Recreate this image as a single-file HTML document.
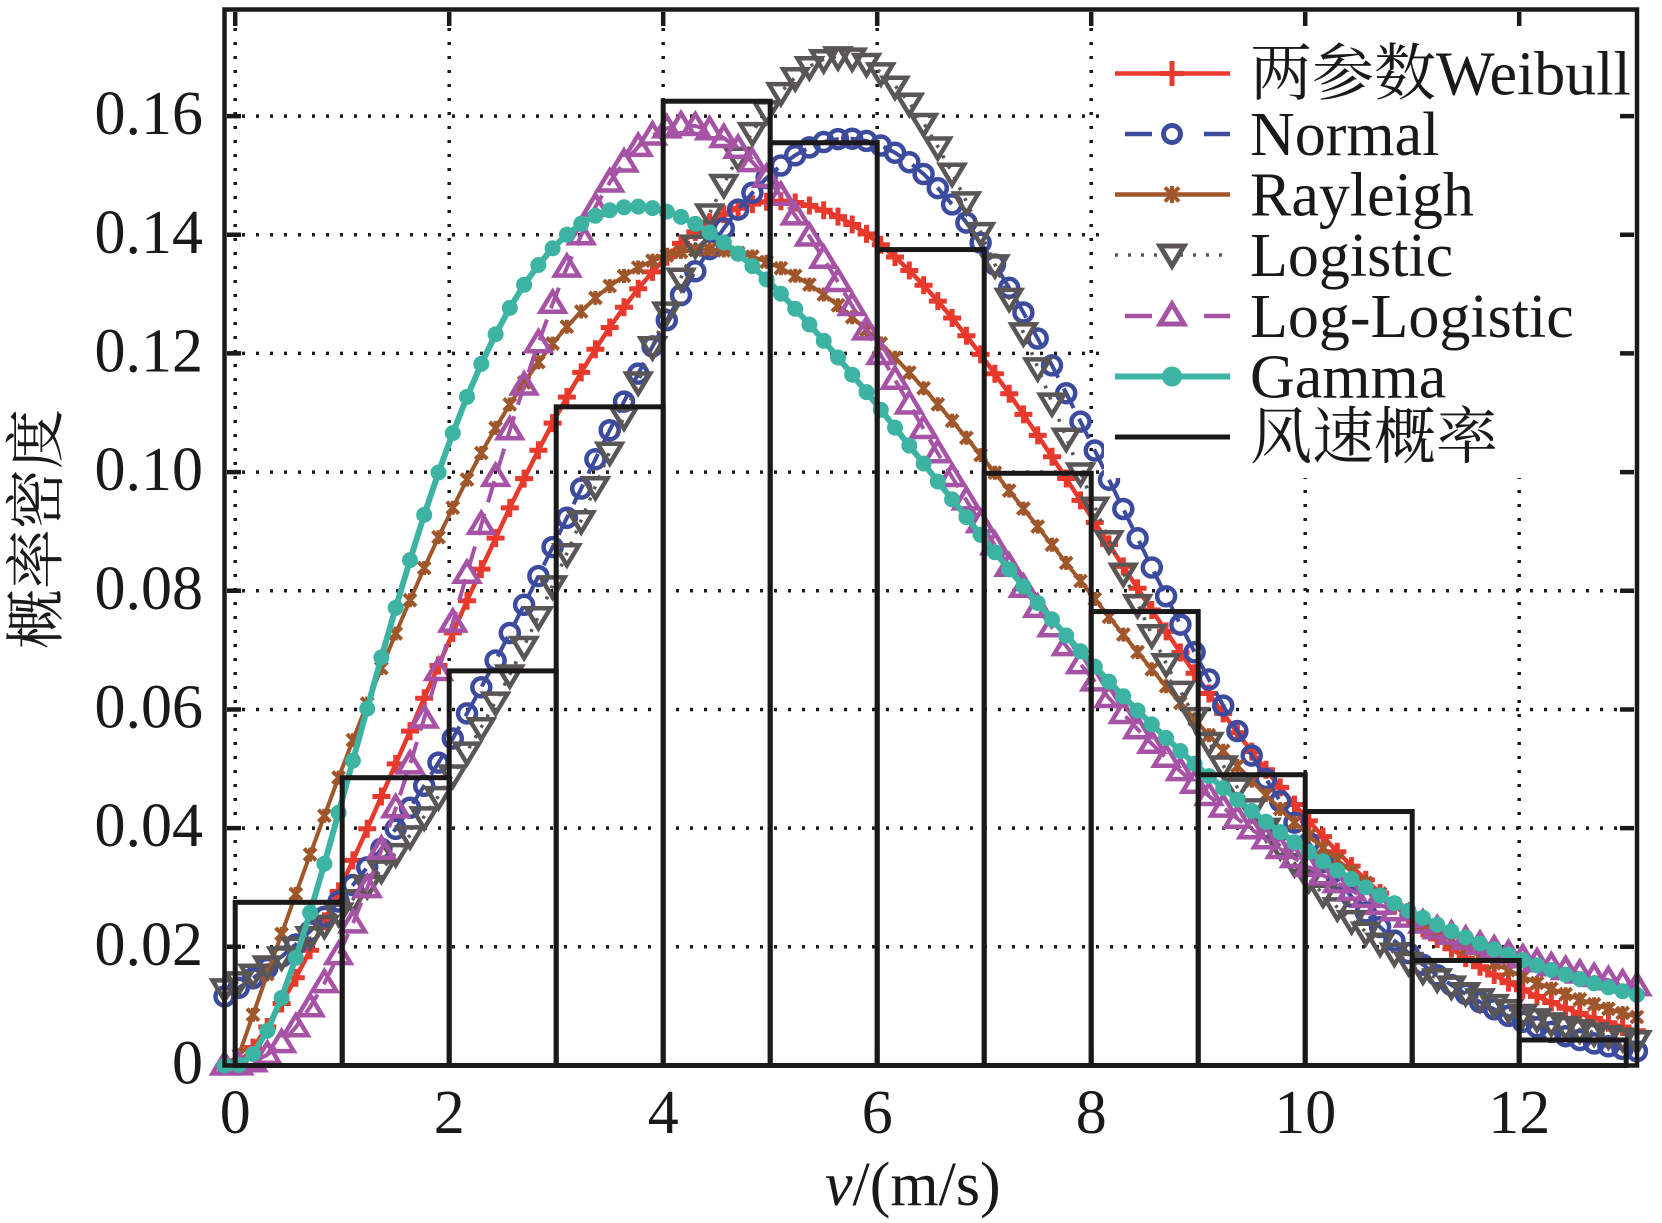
<!DOCTYPE html>
<html>
<head>
<meta charset="utf-8">
<style>
  html,body{margin:0;padding:0;background:#fff;}
  svg{display:block;}
  .tk{font-family:"Liberation Serif","Noto Serif CJK SC",serif;font-size:62px;fill:#1a1818;}
</style>
</head>
<body>
<svg id="chart" xmlns="http://www.w3.org/2000/svg" width="1662" height="1223" viewBox="0 0 1662 1223">
  <rect x="0" y="0" width="1662" height="1223" fill="#fff"/>

  <!-- grid -->
  <g stroke="#1a1818" stroke-width="3.5" stroke-dasharray="3 11" fill="none">
    <line x1="235.2" y1="14" x2="235.2" y2="1063"/>
    <line x1="449.2" y1="14" x2="449.2" y2="1063"/>
    <line x1="663.2" y1="14" x2="663.2" y2="1063"/>
    <line x1="877.2" y1="14" x2="877.2" y2="1063"/>
    <line x1="1091.2" y1="14" x2="1091.2" y2="1063"/>
    <line x1="1305.2" y1="14" x2="1305.2" y2="1063"/>
    <line x1="1519.2" y1="14" x2="1519.2" y2="1063"/>
    <line x1="228" y1="946.8" x2="1634" y2="946.8"/>
    <line x1="228" y1="828.1" x2="1634" y2="828.1"/>
    <line x1="228" y1="709.5" x2="1634" y2="709.5"/>
    <line x1="228" y1="590.8" x2="1634" y2="590.8"/>
    <line x1="228" y1="472.1" x2="1634" y2="472.1"/>
    <line x1="228" y1="353.4" x2="1634" y2="353.4"/>
    <line x1="228" y1="234.8" x2="1634" y2="234.8"/>
    <line x1="228" y1="116.1" x2="1634" y2="116.1"/>
  </g>

  <!-- curves (generated) -->
  <g id="curves"></g>

  <!-- histogram -->
  <g id="bars" stroke="#1a1818" stroke-width="5" fill="none"></g>

  <!-- legend -->
  <rect x="1104" y="13" width="530" height="465" fill="#fff"/>
  <g stroke-width="4.5" fill="none">
    <line x1="1115" y1="73.5" x2="1230" y2="73.5" stroke="#e8392d"/>
    <path d="M1172 61 V86 M1160 73.5 H1184" stroke="#e8392d" stroke-width="5"/>

    <line x1="1125" y1="134" x2="1152" y2="134" stroke="#3d4b9e"/>
    <line x1="1204" y1="134" x2="1230" y2="134" stroke="#3d4b9e"/>
    <circle cx="1172" cy="134" r="8.5" stroke="#3d4b9e" stroke-width="5"/>

    <line x1="1115" y1="194.5" x2="1230" y2="194.5" stroke="#a0562b"/>
    <path d="M1165 187.5 L1179 201.5 M1165 201.5 L1179 187.5 M1172 186 V203" stroke="#a0562b" stroke-width="4"/>

    <line x1="1115" y1="255" x2="1230" y2="255" stroke="#5b5656" stroke-width="3.5" stroke-dasharray="3 10"/>
    <polygon points="1160,246 1184,246 1172,266" stroke="#5b5656" stroke-width="5" fill="#fff"/>

    <line x1="1125" y1="316" x2="1152" y2="316" stroke="#a653a6"/>
    <line x1="1204" y1="316" x2="1230" y2="316" stroke="#a653a6"/>
    <polygon points="1172,304 1184,324 1160,324" stroke="#a653a6" stroke-width="5" fill="#fff"/>

    <line x1="1115" y1="376.5" x2="1230" y2="376.5" stroke="#3cb3a3" stroke-width="6"/>
    <circle cx="1172" cy="376.5" r="10" fill="#3cb3a3" stroke="none"/>

    <line x1="1115" y1="437" x2="1230" y2="437" stroke="#1a1818" stroke-width="5"/>
  </g>
  <g class="tk">
    <text x="1250" y="94.5">两参数Weibull</text>
    <text x="1250" y="155">Normal</text>
    <text x="1250" y="215.5">Rayleigh</text>
    <text x="1250" y="276">Logistic</text>
    <text x="1250" y="337">Log-Logistic</text>
    <text x="1250" y="397.5">Gamma</text>
    <text x="1250" y="458">风速概率</text>
  </g>

  <!-- axes frame and ticks -->
  <g stroke="#1a1818" stroke-width="4.5" fill="none">
    <rect x="224.5" y="9.5" width="1412.5" height="1056"/>
    <path d="M235.2 1063 V1049 M449.2 1063 V1049 M663.2 1063 V1049 M877.2 1063 V1049 M1091.2 1063 V1049 M1305.2 1063 V1049 M1519.2 1063 V1049
             M235.2 12 V26 M449.2 12 V26 M663.2 12 V26 M877.2 12 V26 M1091.2 12 V26 M1305.2 12 V26 M1519.2 12 V26
             M227 946.8 H241 M227 828.1 H241 M227 709.5 H241 M227 590.8 H241 M227 472.1 H241 M227 353.4 H241 M227 234.8 H241 M227 116.1 H241
             M1634 946.8 H1620 M1634 828.1 H1620 M1634 709.5 H1620 M1634 590.8 H1620 M1634 472.1 H1620 M1634 353.4 H1620 M1634 234.8 H1620 M1634 116.1 H1620"/>
  </g>

  <!-- y tick labels -->
  <g class="tk" text-anchor="end">
    <text x="203" y="1083.5">0</text>
    <text x="203" y="964.8">0.02</text>
    <text x="203" y="846.1">0.04</text>
    <text x="203" y="727.5">0.06</text>
    <text x="203" y="608.8">0.08</text>
    <text x="203" y="490.1">0.10</text>
    <text x="203" y="371.4">0.12</text>
    <text x="203" y="252.8">0.14</text>
    <text x="203" y="134.1">0.16</text>
  </g>

  <!-- x tick labels -->
  <g class="tk" text-anchor="middle">
    <text x="235.2" y="1133">0</text>
    <text x="449.2" y="1133">2</text>
    <text x="663.2" y="1133">4</text>
    <text x="877.2" y="1133">6</text>
    <text x="1091.2" y="1133">8</text>
    <text x="1305.2" y="1133">10</text>
    <text x="1519.2" y="1133">12</text>
  </g>

  <!-- axis labels -->
  <text class="tk" x="825" y="1205"><tspan font-style="italic">v</tspan>/(m/s)</text>
  <text class="tk" transform="translate(35,529) rotate(-90)" x="0" y="22" text-anchor="middle" style="font-size:60px">概率密度</text>
</svg>

<script>
(function(){
  var NS = 'http://www.w3.org/2000/svg';
  var X = function(x){ return 235.2 + 107*x; };
  var Y = function(v){ return 1065.5 - 5934*v; };

  // histogram
  var h = [0.0275,0.0485,0.0665,0.1110,0.1625,0.1555,0.1375,0.0998,0.0765,0.0490,0.0428,0.0177,0.0043];
  var bars = document.getElementById('bars');
  for (var i=0;i<h.length;i++){
    var r = document.createElementNS(NS,'rect');
    r.setAttribute('x', X(i));
    r.setAttribute('y', Y(h[i]));
    r.setAttribute('width', 107);
    r.setAttribute('height', Y(0)-Y(h[i]));
    bars.appendChild(r);
  }

  function weib(x){ if(x<=0) return 0; var k=2.3,c=6.5; return (k/c)*Math.pow(x/c,k-1)*Math.exp(-Math.pow(x/c,k)); }
  function norm(x){ var m=5.72,s=2.554; return Math.exp(-(x-m)*(x-m)/(2*s*s))/(s*Math.sqrt(2*Math.PI)); }
  function rayl(x){ if(x<=0) return 0; var s=4.41; return x/(s*s)*Math.exp(-x*x/(2*s*s)); }
  function logi(x){ var m=5.66,s=1.47; var e=Math.exp(-(x-m)/s); return e/(s*(1+e)*(1+e)); }
  function llog(x){ if(x<=0) return 0; var a=5.3,b=3; var r=x/a; var u=Math.pow(r,b); return (b/a)*Math.pow(r,b-1)/((1+u)*(1+u)); }
  function gam(x){ if(x<=0) return 0; var t=1.87; return x*x*Math.exp(-x/t)/(2*t*t*t); }

  var series = [
    {fn:weib, col:'#e8392d', dash:null,   lw:4.5, mk:'plus',   mw:5},
    {fn:norm, col:'#3d4b9e', dash:'22 12',lw:4,   mk:'circle', mw:4.5},
    {fn:rayl, col:'#a0562b', dash:null,   lw:4,   mk:'star',   mw:4},
    {fn:logi, col:'#5b5656', dash:'3 9',  lw:3.5, mk:'tdown',  mw:4.5},
    {fn:llog, col:'#a653a6', dash:'22 12',lw:4,   mk:'tup',    mw:4.5},
    {fn:gam,  col:'#3cb3a3', dash:null,   lw:6,   mk:'dot',    mw:0}
  ];

  var g = document.getElementById('curves');
  var N = 100, x0=-0.1, x1=13.1;
  series.forEach(function(s){
    var d='', m='';
    for (var i=0;i<N;i++){
      var x = x0 + (x1-x0)*i/(N-1);
      var px = X(x), py = Y(s.fn(x));
      px = Math.round(px*10)/10; py = Math.round(py*10)/10;
      d += (i? 'L':'M') + px + ' ' + py + ' ';
      switch(s.mk){
        case 'plus': m += 'M'+(px-9)+' '+py+'H'+(px+9)+'M'+px+' '+(py-9)+'V'+(py+9); break;
        case 'circle': m += 'M'+(px-9)+' '+py+'a9 9 0 1 0 18 0a9 9 0 1 0 -18 0'; break;
        case 'star': m += 'M'+(px-6)+' '+(py-6)+'L'+(px+6)+' '+(py+6)+'M'+(px-6)+' '+(py+6)+'L'+(px+6)+' '+(py-6)+'M'+px+' '+(py-7)+'V'+(py+7); break;
        case 'tdown': m += 'M'+(px-12)+' '+(py-8)+'L'+(px+12)+' '+(py-8)+'L'+px+' '+(py+12)+'Z'; break;
        case 'tup': m += 'M'+px+' '+(py-12)+'L'+(px+12)+' '+(py+8)+'L'+(px-12)+' '+(py+8)+'Z'; break;
        case 'dot': m += 'M'+(px-8)+' '+py+'a8 8 0 1 0 16 0a8 8 0 1 0 -16 0'; break;
      }
    }
    var p = document.createElementNS(NS,'path');
    p.setAttribute('d', d);
    p.setAttribute('fill','none');
    p.setAttribute('stroke', s.col);
    p.setAttribute('stroke-width', s.lw);
    p.setAttribute('stroke-linejoin','round');
    if (s.dash) p.setAttribute('stroke-dasharray', s.dash);
    g.appendChild(p);
    var q = document.createElementNS(NS,'path');
    q.setAttribute('d', m);
    if (s.mk==='dot'){
      q.setAttribute('fill', s.col);
      q.setAttribute('stroke','none');
    } else {
      q.setAttribute('fill','none');
      q.setAttribute('stroke', s.col);
      q.setAttribute('stroke-width', s.mw);
    }
    g.appendChild(q);
  });
})();
</script>
</body>
</html>
